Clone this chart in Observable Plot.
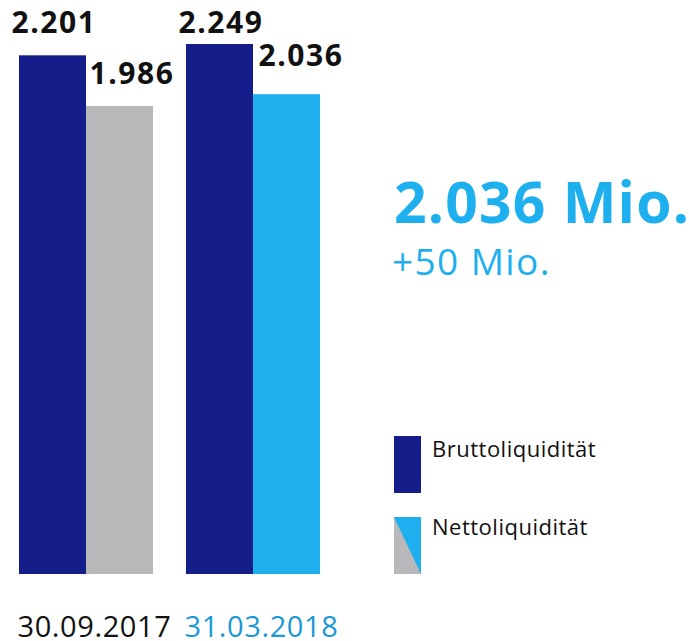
<!DOCTYPE html>
<html>
<head>
<meta charset="utf-8">
<script src="https://cdn.jsdelivr.net/npm/d3@7"></script>
<script src="https://cdn.jsdelivr.net/npm/@observablehq/plot@0.6"></script>
<style>
  html, body { margin: 0; padding: 0; background: #fff; }
  #wrap { position: relative; width: 689px; height: 641px; overflow: hidden; font-family: "Open Sans", sans-serif; }
  #wrap > svg { position: absolute; left: 0; top: 0; }
  #overlay { pointer-events: none; }
  #wrap g[font-weight="bold"] text { letter-spacing: 1.6px; }
  #wrap g[font-size="29"] text { letter-spacing: 0.6px; }
</style>
</head>
<body>
<div id="wrap"></div>
<script>
// ---- data ----
const dates = ["30.09.2017", "31.03.2018"];
const series = ["Bruttoliquidität", "Nettoliquidität"];
const brutto = [2201, 2249];
const netto = [1986, 2036];
const unit = "Mio.";

// ---- styling ----
const NAVY = "#141d8a";
const GRAY = "#b9b9bb";
const LIGHTBLUE = "#1eb0ee";
const DATEBLUE = "#1a98d6";
const BLACK = "#111111";

const de = d3.formatLocale({decimal: ",", thousands: ".", grouping: [3], currency: ["", " €"]});
const fmt = de.format(",d");

const rows = [];
dates.forEach((d, i) => {
  rows.push({date: d, series: series[0], value: brutto[i]});
  rows.push({date: d, series: series[1], value: netto[i]});
});
const fillOf = r => r.series === series[0] ? NAVY : (r.date === dates[0] ? GRAY : LIGHTBLUE);

const nettoLabel = i => Plot.text(rows.filter(r => r.series === series[1] && r.date === dates[i]), {
  fx: "date", x: "series", y: "value", text: r => fmt(r.value),
  lineAnchor: "bottom", dy: i === 0 ? -22 : -29, dx: i === 0 ? 12 : 14,
  fontSize: 30, fontWeight: "bold", fill: BLACK
});

const chart = Plot.plot({
  width: 689,
  height: 641,
  marginLeft: 18,
  marginRight: 369,
  marginTop: 44,
  marginBottom: 67,
  style: {fontFamily: "Open Sans, sans-serif", background: "transparent"},
  fx: {domain: dates, paddingInner: 32 / 167, paddingOuter: 0, axis: null, label: null},
  x: {domain: series, padding: 0, axis: null, label: null},
  y: {domain: [0, d3.max(brutto.concat(netto))], axis: null, label: null},
  color: {type: "identity"},
  marks: [
    Plot.barY(rows, {fx: "date", x: "series", y: "value", fill: fillOf, inset: 0}),
    Plot.text(rows.filter(r => r.series === series[0]), {
      fx: "date", x: "series", frameAnchor: "top", text: r => fmt(r.value),
      lineAnchor: "bottom", dy: -12, dx: 1, fontSize: 30, fontWeight: "bold", fill: BLACK
    }),
    nettoLabel(0),
    nettoLabel(1),
    Plot.text(dates, {
      fx: d => d, text: d => d, frameAnchor: "bottom-left", textAnchor: "start",
      lineAnchor: "bottom", dy: 62, dx: -1, fontSize: 29,
      fill: d => d === dates[1] ? DATEBLUE : BLACK
    })
  ]
});
document.getElementById("wrap").appendChild(chart);

// ---- annotation + legend overlay ----
const diff = netto[1] - netto[0];
const ns = "http://www.w3.org/2000/svg";
const ov = d3.select("#wrap").append("svg")
  .attr("id", "overlay").attr("width", 689).attr("height", 641)
  .attr("xmlns", ns);

ov.append("text").attr("x", 394).attr("y", 223)
  .attr("font-family", "Open Sans, sans-serif").attr("font-weight", "bold")
  .attr("font-size", 57).attr("fill", LIGHTBLUE)
  .style("letter-spacing", "1.2px")
  .text(`${fmt(netto[1])} ${unit}`);
ov.append("text").attr("x", 392).attr("y", 275)
  .attr("font-family", "Open Sans, sans-serif")
  .attr("font-size", 37).attr("fill", LIGHTBLUE)
  .style("letter-spacing", "1.4px")
  .text(`+${fmt(diff)} ${unit}`);

// legend
ov.append("rect").attr("x", 394).attr("y", 436).attr("width", 27).attr("height", 57).attr("fill", NAVY);
ov.append("rect").attr("x", 394).attr("y", 517).attr("width", 27).attr("height", 57).attr("fill", GRAY);
ov.append("path").attr("d", "M394,517 L421,517 L421,574 Z").attr("fill", LIGHTBLUE);
ov.append("text").attr("x", 432).attr("y", 457)
  .attr("font-family", "Open Sans, sans-serif").attr("font-size", 22).attr("fill", BLACK)
  .style("letter-spacing", "0.5px")
  .text(series[0]);
ov.append("text").attr("x", 432).attr("y", 535)
  .attr("font-family", "Open Sans, sans-serif").attr("font-size", 22).attr("fill", BLACK)
  .style("letter-spacing", "0.5px")
  .text(series[1]);
</script>
</body>
</html>
